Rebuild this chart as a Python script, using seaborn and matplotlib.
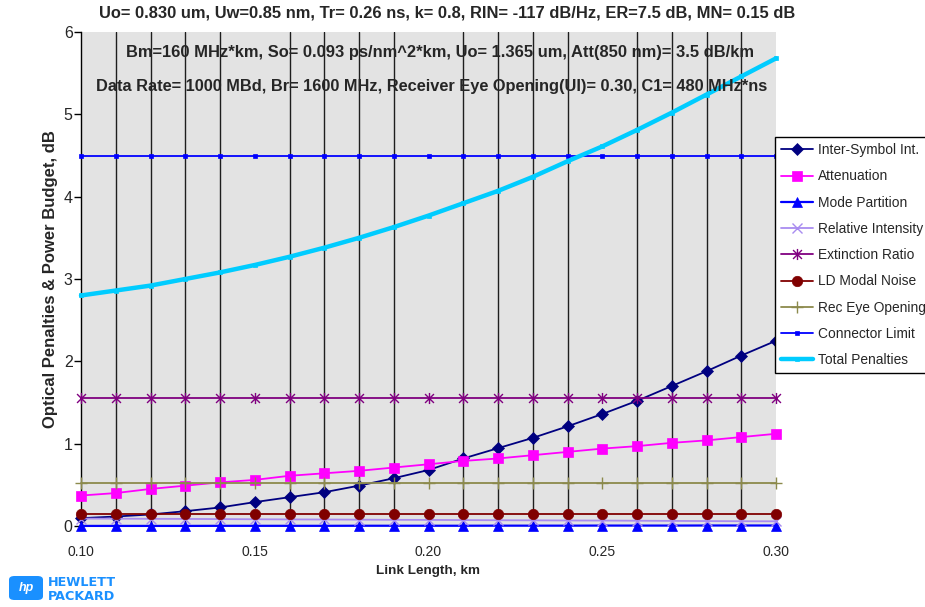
import matplotlib
matplotlib.use("Agg")
import matplotlib.pyplot as plt
from matplotlib.patches import FancyBboxPatch
from matplotlib.path import Path
import seaborn as sns
import pandas as pd

# Link lengths (km)
link_km = [0.10, 0.11, 0.12, 0.13, 0.14, 0.15, 0.16, 0.17, 0.18, 0.19, 0.20,
           0.21, 0.22, 0.23, 0.24, 0.25, 0.26, 0.27, 0.28, 0.29, 0.30]

# Penalties (dB)
inter_symbol = [0.095, 0.115, 0.14, 0.18, 0.225, 0.29, 0.35, 0.41, 0.49, 0.58, 0.68,
                0.82, 0.945, 1.07, 1.21, 1.36, 1.52, 1.70, 1.88, 2.07, 2.25]
attenuation = [0.37, 0.40, 0.45, 0.49, 0.53, 0.56, 0.61, 0.64, 0.67, 0.71, 0.75,
               0.79, 0.82, 0.86, 0.90, 0.94, 0.97, 1.01, 1.04, 1.08, 1.12]
mode_partition = [0.001, 0.001, 0.001, 0.001, 0.002, 0.002, 0.002, 0.002, 0.003, 0.003, 0.003,
                  0.003, 0.004, 0.004, 0.004, 0.005, 0.005, 0.005, 0.006, 0.006, 0.006]
relative_intensity = [0.090, 0.089, 0.087, 0.086, 0.084, 0.082, 0.080, 0.079, 0.077, 0.075, 0.074,
                      0.072, 0.070, 0.069, 0.067, 0.066, 0.064, 0.062, 0.060, 0.058, 0.057]
extinction_ratio = [1.56] * 21
ld_modal_noise = [0.15] * 21
rec_eye_opening = [0.52] * 21
connector_limit = [4.5] * 21
total_penalties = [2.80, 2.86, 2.92, 3.00, 3.08, 3.17, 3.27, 3.38, 3.50, 3.63, 3.77,
                   3.92, 4.07, 4.24, 4.43, 4.61, 4.81, 5.02, 5.24, 5.46, 5.68]

x_ticks = [0.10, 0.15, 0.20, 0.25, 0.30]
x_tick_labels = ["0.10", "0.15", "0.20", "0.25", "0.30"]
y_ticks = [0, 1, 2, 3, 4, 5, 6]

title_lines = [
    "Uo= 0.830 um, Uw=0.85 nm, Tr= 0.26 ns, k= 0.8, RIN= -117 dB/Hz, ER=7.5 dB, MN= 0.15 dB",
    "Bm=160 MHz*km, So= 0.093 ps/nm^2*km, Uo= 1.365 um, Att(850 nm)= 3.5 dB/km",
    "Data Rate= 1000 MBd, Br= 1600 MHz, Receiver Eye Opening(UI)= 0.30, C1= 480 MHz*ns",
]

sns.set_style("white")
plt.rcParams["font.family"] = ["Liberation Sans", "DejaVu Sans"]

W, H = 925, 607
fig = plt.figure(figsize=(W / 100, H / 100), dpi=100)
fig.patch.set_facecolor("white")

def fx(px):
    return px / W

def fy(py):
    return 1 - py / H

# star marker: an X crossed by a vertical bar
star_marker = Path(
    [(-1, -1), (1, 1), (-1, 1), (1, -1), (0, -1.25), (0, 1.25)],
    [Path.MOVETO, Path.LINETO, Path.MOVETO, Path.LINETO, Path.MOVETO, Path.LINETO],
)

ax = fig.add_axes([fx(81), fy(526), fx(776) - fx(81), fy(32) - fy(526)])
ax.set_facecolor("#e3e3e3")

df = pd.DataFrame({
    "km": link_km,
    "Inter-Symbol Int.": inter_symbol,
    "Attenuation": attenuation,
    "Mode Partition": mode_partition,
    "Relative Intensity": relative_intensity,
    "Extinction Ratio": extinction_ratio,
    "LD Modal Noise": ld_modal_noise,
    "Rec Eye Opening": rec_eye_opening,
    "Connector Limit": connector_limit,
    "Total Penalties": total_penalties,
})

styles = {
    "Inter-Symbol Int.": dict(color="#000080", marker="D", markersize=6.3, lw=1.3),
    "Attenuation": dict(color="#ff00ff", marker="s", markersize=7.5, lw=1.3),
    "Mode Partition": dict(color="#0000ff", marker="^", markersize=7.5, lw=1.6),
    "Relative Intensity": dict(color="#a98cf0", marker="x", markersize=7, lw=1.3, mew=1.0),
    "Extinction Ratio": dict(color="#800080", marker=star_marker, markersize=8, lw=1.3, mew=1.0),
    "LD Modal Noise": dict(color="#800000", marker="o", markersize=7.5, lw=1.3),
    "Rec Eye Opening": dict(color="#8c8a4c", marker="+", markersize=8, lw=1.3, mew=1.0),
    "Connector Limit": dict(color="#0000ff", marker="s", markersize=3, lw=1.3),
    "Total Penalties": dict(color="#00ccff", marker="s", markersize=3.5, lw=3.2),
}

for name, st in styles.items():
    sns.lineplot(data=df, x="km", y=name, ax=ax, label=name, color=st["color"],
                 marker=st["marker"], markersize=st["markersize"], linewidth=st["lw"],
                 markeredgecolor=st["color"], markeredgewidth=st.get("mew", 0.5),
                 clip_on=False, zorder=3)

ax.set_xlim(0.10, 0.30)
ax.set_ylim(0, 6)

# vertical grid at every link length step
ax.set_xticks(link_km, minor=True)
ax.grid(True, which="minor", axis="x", color="#1e1e1e", linewidth=1.0, zorder=1)
ax.set_axisbelow(True)
ax.set_xticks(x_ticks)
ax.set_xticklabels(x_tick_labels, fontsize=10)
ax.tick_params(axis="x", which="both", length=0, pad=14)
ax.set_yticks(y_ticks)
ax.set_yticklabels([str(v) for v in y_ticks], fontsize=11.5)
ax.tick_params(axis="y", length=5, width=1, direction="out", color="black", pad=1, left=True)

for side in ["top", "bottom", "right"]:
    ax.spines[side].set_visible(False)
ax.spines["left"].set_color("black")
ax.spines["left"].set_linewidth(1.0)

ax.set_xlabel("Link Length, km", fontsize=9.7, fontweight="bold", labelpad=4)
ax.set_ylabel("Optical Penalties & Power Budget, dB", fontsize=12, fontweight="bold")
ax.yaxis.set_label_coords((58 - 81) / 695, 0.5)

fig.text(fx(447), fy(13), title_lines[0], ha="center", va="center",
         fontsize=11.9, fontweight="bold")
fig.text(fx(440), fy(52), title_lines[1], ha="center", va="center",
         fontsize=11.9, fontweight="bold", zorder=5)
fig.text(fx(432), fy(86), title_lines[2], ha="center", va="center",
         fontsize=11.8, fontweight="bold", zorder=5)

leg = ax.legend(loc="upper left", bbox_to_anchor=(fx(775), fy(137)),
                bbox_transform=fig.transFigure, frameon=True, fancybox=False,
                fontsize=9.9, handlelength=2.3, handletextpad=0.4, borderpad=0.45,
                labelspacing=0.89, borderaxespad=0)
leg.get_frame().set_edgecolor("black")
leg.get_frame().set_linewidth(1.0)
leg.get_frame().set_facecolor("white")
leg.get_frame().set_alpha(1)

# company logo
hp_blue = "#1a90ff"
logo = FancyBboxPatch((fx(9), fy(600)), fx(43) - fx(9), fy(576) - fy(600),
                      boxstyle="round,pad=0,rounding_size=0.006",
                      transform=fig.transFigure, facecolor=hp_blue, edgecolor="none")
fig.patches.append(logo)
fig.text(fx(26), fy(588), "hp", color="white", fontsize=9, fontstyle="italic",
         fontweight="bold", ha="center", va="center")
fig.text(fx(48), fy(582), "HEWLETT", color=hp_blue, fontsize=9.2, fontweight="bold",
         family="DejaVu Sans", ha="left", va="center")
fig.text(fx(48), fy(596), "PACKARD", color=hp_blue, fontsize=9.2, fontweight="bold",
         family="DejaVu Sans", ha="left", va="center")

fig.savefig("out.png", dpi=100)
